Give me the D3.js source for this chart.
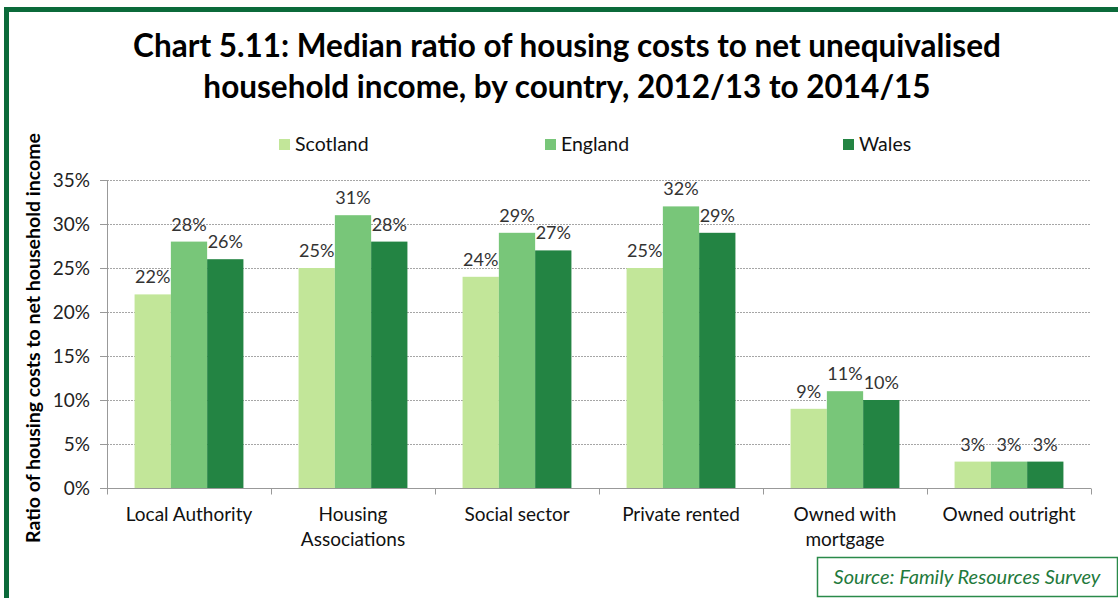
<!DOCTYPE html>
<html>
<head>
<meta charset="utf-8">
<script src="https://cdn.jsdelivr.net/npm/d3@7"></script>
<style>
  html, body { margin: 0; padding: 0; background: #fff; }
  svg { display: block; font-family: Lato, "Open Sans", sans-serif; }
</style>
</head>
<body>
<div id="chart"></div>
<script>
// data
const categories = [['Local Authority'], ['Housing', 'Associations'], ['Social sector'],
  ['Private rented'], ['Owned with', 'mortgage'], ['Owned outright']];
const seriesNames = ['Scotland', 'England', 'Wales'];
const scotland = [22, 25, 24, 25, 9, 3];
const england = [28, 31, 29, 32, 11, 3];
const wales = [26, 28, 27, 29, 10, 3];
const yTicks = [0, 5, 10, 15, 20, 25, 30, 35];
const titleLines = ['Chart 5.11: Median ratio of housing costs to net unequivalised',
  'household income, by country, 2012/13 to 2014/15'];

const colors = ['#c2e699', '#78c679', '#238443'];
const values = [scotland, england, wales];

const W = 1118, H = 598;
const margin = { top: 180, left: 107, right: 27, bottom: 110 };
const plotW = W - margin.left - margin.right, plotH = H - margin.top - margin.bottom;

const svg = d3.select('#chart').append('svg')
  .attr('width', W).attr('height', H);

// outer frame (runs off the right/bottom edge like the reference)
svg.append('rect')
  .attr('x', 6.5).attr('y', 9.5)
  .attr('width', W + 20).attr('height', H + 20)
  .attr('fill', 'none').attr('stroke', '#0b6a3a').attr('stroke-width', 5);

// title
svg.append('g').selectAll('text')
  .data(titleLines)
  .join('text')
  .attr('x', 567).attr('y', (d, i) => 57 + i * 41)
  .attr('text-anchor', 'middle')
  .attr('font-size', '31.5px').attr('font-weight', 'bold').attr('fill', '#000')
  .text(d => d);

// legend
const legendX = [279, 545, 843];
const legend = svg.append('g').selectAll('g')
  .data(seriesNames)
  .join('g')
  .attr('transform', (d, i) => `translate(${legendX[i]},139)`);
legend.append('rect').attr('width', 11).attr('height', 11).attr('fill', (d, i) => colors[i]);
legend.append('text').attr('x', 16).attr('y', 12)
  .attr('font-size', '19.5px').attr('fill', '#111').text(d => d);

const g = svg.append('g').attr('transform', `translate(${margin.left},${margin.top})`);

const x0 = d3.scaleBand().domain(d3.range(categories.length)).range([0, plotW]);
const x1 = d3.scaleBand().domain(d3.range(seriesNames.length))
  .range([0, x0.bandwidth()]).paddingInner(0).paddingOuter(0.76);
const y = d3.scaleLinear().domain([0, 35]).range([plotH, 0]);

// gridlines
g.append('g').selectAll('line')
  .data(yTicks.slice(1))
  .join('line')
  .attr('x1', 0).attr('x2', plotW)
  .attr('y1', d => y(d) + 0.5).attr('y2', d => y(d) + 0.5)
  .attr('stroke', '#a6a6a6').attr('stroke-dasharray', '2,1');

// y axis
g.append('g')
  .call(d3.axisLeft(y).tickValues(yTicks).tickFormat(d => d + '%').tickSize(7).tickPadding(10))
  .call(a => a.select('.domain').attr('stroke', '#999'))
  .call(a => a.selectAll('line').attr('stroke', '#999'))
  .call(a => a.selectAll('text').attr('font-size', '19px').attr('fill', '#222')
    .attr('font-family', 'Lato, sans-serif'));

// bars
const groups = g.append('g').selectAll('g')
  .data(categories)
  .join('g')
  .attr('transform', (d, i) => `translate(${x0(i)},0)`);

groups.selectAll('rect')
  .data((d, i) => values.map((s, k) => ({ k, v: s[i] })))
  .join('rect')
  .attr('x', d => x1(d.k)).attr('width', x1.bandwidth())
  .attr('y', d => y(d.v)).attr('height', d => plotH - y(d.v))
  .attr('fill', d => colors[d.k]);

groups.selectAll('text.lbl')
  .data((d, i) => values.map((s, k) => ({ k, v: s[i] })))
  .join('text')
  .attr('class', 'lbl')
  .attr('x', d => x1(d.k) + x1.bandwidth() / 2)
  .attr('y', d => y(d.v) - 11)
  .attr('text-anchor', 'middle')
  .attr('font-size', '18px').attr('fill', '#333')
  .text(d => d.v + '%');

// x axis with ticks on category boundaries
const xa = g.append('g').attr('transform', `translate(0,${plotH + 0.5})`);
xa.append('line').attr('x1', 0).attr('x2', plotW).attr('stroke', '#999');
xa.selectAll('line.tk')
  .data(d3.range(categories.length + 1))
  .join('line')
  .attr('class', 'tk')
  .attr('x1', d => d * x0.step() + 0.5).attr('x2', d => d * x0.step() + 0.5)
  .attr('y1', 0).attr('y2', 6)
  .attr('stroke', '#999');
xa.selectAll('text')
  .data(categories)
  .join('text')
  .attr('x', (d, i) => x0(i) + x0.bandwidth() / 2)
  .attr('y', 32)
  .attr('text-anchor', 'middle')
  .attr('font-size', '19px').attr('fill', '#111')
  .selectAll('tspan')
  .data(d => d)
  .join('tspan')
  .attr('x', function () { return this.parentNode.getAttribute('x'); })
  .attr('dy', (d, i) => i ? 25 : 0)
  .text(d => d);

// y axis title
svg.append('text')
  .attr('transform', `translate(40,${margin.top + plotH / 2 + 4}) rotate(-90)`)
  .attr('text-anchor', 'middle')
  .attr('font-size', '19.5px').attr('font-weight', 'bold').attr('fill', '#000')
  .text('Ratio of housing costs to net household income');

// source box
svg.append('rect')
  .attr('x', 817.5).attr('y', 557.5).attr('width', 300).attr('height', 39)
  .attr('fill', '#fff').attr('stroke', '#2a8a4a').attr('stroke-width', 1.5);
svg.append('text')
  .attr('x', 967).attr('y', 584)
  .attr('text-anchor', 'middle')
  .attr('font-size', '20px').attr('font-style', 'italic').attr('fill', '#1f7a3c')
  .text('Source: Family Resources Survey');
</script>
</body>
</html>
